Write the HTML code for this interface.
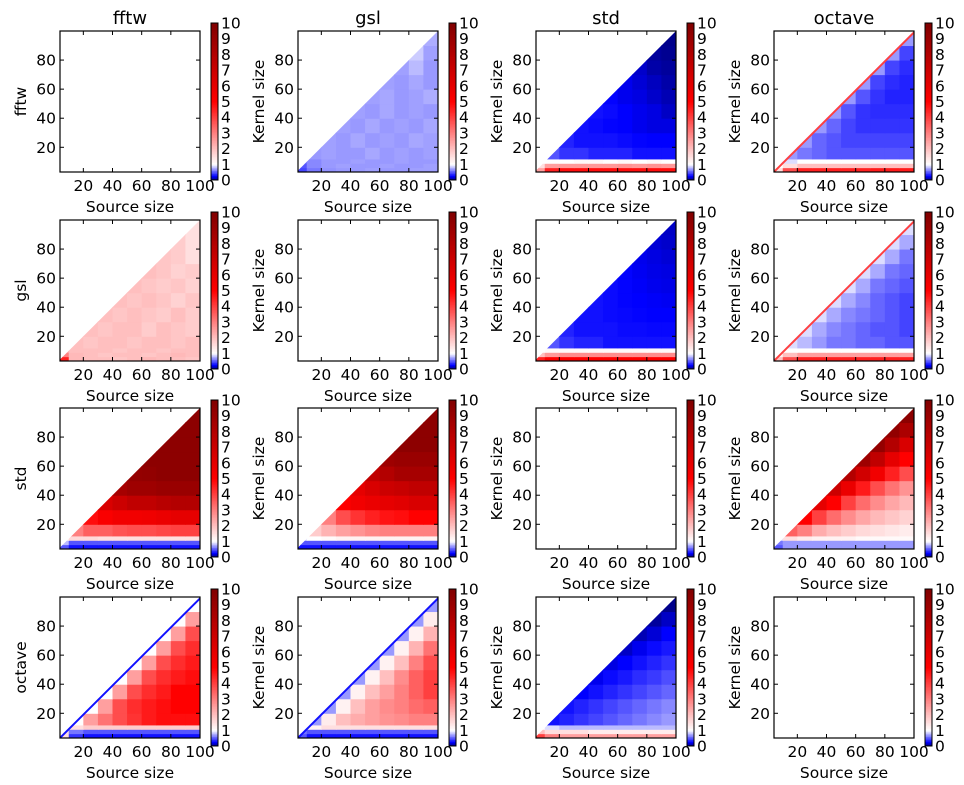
<!DOCTYPE html>
<html><head><meta charset="utf-8">
<style>
html,body{margin:0;padding:0;background:#fff;}
svg{display:block;}
text{font-family:"DejaVu Sans","Liberation Sans",sans-serif;fill:#000;}
</style></head>
<body>
<svg id="fig" width="964" height="785" viewBox="0 0 964 785" xmlns="http://www.w3.org/2000/svg"></svg>
<script>
const libs = ['fftw','gsl','std','octave'];
const sourceEdges = [3,10,20,30,40,50,60,70,80,90,100];
const kernelEdges = [3,6,9,12,20,30,40,50,60,70,80,90,100];
const xTicks = [20,40,60,80,100];
const yTicks = [20,40,60,80];
const cbTicks = [0,1,2,3,4,5,6,7,8,9,10];

const ones = [1,1,1,1,1,1,1,1,1,1];
const data_fftw_fftw = [ones,ones,ones,ones,ones,ones,ones,ones,ones,ones,ones,ones];
const data_gsl_gsl = [ones,ones,ones,ones,ones,ones,ones,ones,ones,ones,ones,ones];
const data_std_std = [ones,ones,ones,ones,ones,ones,ones,ones,ones,ones,ones,ones];
const data_octave_octave = [ones,ones,ones,ones,ones,ones,ones,ones,ones,ones,ones,ones];

const data_fftw_gsl = [
[.45,.6,.68,.7,.7,.72,.7,.7,.72,.72],
[.5,.65,.7,.72,.7,.7,.72,.7,.7,.72],
[.55,.65,.7,.7,.72,.7,.7,.72,.7,.7],
[.7,.7,.72,.7,.7,.74,.7,.72,.7,.72],
[.7,.7,.72,.7,.74,.7,.72,.7,.74,.72],
[.7,.7,.7,.72,.7,.74,.7,.72,.7,.74],
[.7,.7,.7,.7,.72,.7,.74,.7,.72,.7],
[.7,.7,.7,.7,.7,.72,.74,.7,.72,.76],
[.7,.7,.7,.7,.7,.7,.72,.7,.74,.7],
[.7,.7,.7,.7,.7,.7,.7,.72,.8,.7],
[.7,.7,.7,.7,.7,.7,.7,.7,.85,.72],
[.7,.7,.7,.7,.7,.7,.7,.7,.7,.76]];
const data_gsl_fftw = [
[4.5,2.1,2,2,1.9,2,2.1,2,2,1.9],
[3,2.1,2,1.9,2,2,1.9,2,2.1,2],
[2.4,2,2,2,1.9,2,2,1.9,2,2],
[2.2,2,1.9,2,2,1.9,2,2,1.9,2],
[2.1,2,2,1.9,2,2,1.8,2,1.9,1.8],
[2,2,2,2,1.9,2,1.9,1.8,2,1.8],
[2,2,2,2,2,1.9,2,1.9,1.7,1.9],
[2,2,2,2,2,2,1.9,1.8,1.9,1.7],
[2,2,2,2,2,2,2,1.9,1.7,1.8],
[2,2,2,2,2,2,2,1.9,1.8,1.5],
[2,2,2,2,2,2,2,2,1.8,1.5],
[2,2,2,2,2,2,2,2,1.9,1.5]];
const data_fftw_std = [
[2.5,4.5,4.8,4.8,4.8,4.8,4.8,4.8,4.8,4.8],
[1.5,2.5,2.6,2.6,2.6,2.6,2.7,2.6,2.7,2.6],
[1,1,1,1.1,1.1,1,1.1,1,1.1,1],
[.6,.5,.4,.4,.35,.35,.35,.3,.3,.3],
[.5,.4,.35,.3,.3,.3,.28,.26,.25,.25],
[.4,.4,.35,.3,.28,.26,.25,.22,.2,.2],
[.4,.4,.35,.3,.3,.28,.25,.22,.2,.15],
[.4,.4,.35,.3,.3,.26,.22,.2,.16,.12],
[.4,.4,.35,.3,.3,.26,.22,.18,.14,.1],
[.4,.4,.35,.3,.3,.26,.2,.16,.1,.08],
[.4,.4,.35,.3,.3,.26,.2,.12,.08,.06],
[.4,.4,.35,.3,.3,.26,.2,.1,.06,.05]];
const data_fftw_octave = [
[1.5,3.8,4.5,4.5,4.5,4.5,4.5,4.6,4.6,4.6],
[1,1.5,2,2,2,2,2,2,2,2],
[.7,.9,1,1,1,1,1,1,1,1],
[.6,.7,.6,.55,.5,.5,.5,.5,.5,.5],
[.6,.6,.7,.55,.5,.45,.45,.45,.45,.45],
[.6,.6,.7,.7,.55,.45,.4,.4,.4,.4],
[.6,.6,.7,.7,.7,.5,.4,.38,.38,.38],
[.6,.6,.7,.7,.7,.7,.5,.4,.35,.35],
[.6,.6,.7,.7,.7,.7,.7,.45,.38,.35],
[.6,.6,.7,.7,.7,.7,.7,.7,.45,.38],
[.6,.6,.7,.7,.7,.7,.7,.7,.7,.45],
[.6,.6,.7,.7,.7,.7,.7,.7,.7,.7]];
const data_gsl_std = [
[4.5,5,5,5,5,5,5,5,5,5],
[2,2.6,2.8,2.8,2.8,2.8,2.8,2.8,2.8,2.8],
[1,1.1,1.1,1.1,1.1,1.1,1.1,1.1,1.1,1.1],
[.6,.5,.4,.35,.35,.3,.3,.3,.3,.3],
[.5,.4,.35,.3,.3,.3,.28,.28,.27,.27],
[.5,.4,.35,.3,.3,.28,.27,.26,.25,.25],
[.5,.4,.35,.3,.3,.28,.26,.25,.24,.23],
[.5,.4,.35,.3,.3,.28,.26,.24,.22,.21],
[.5,.4,.35,.3,.3,.28,.26,.23,.21,.2],
[.5,.4,.35,.3,.3,.28,.26,.22,.2,.18],
[.5,.4,.35,.3,.3,.28,.26,.22,.18,.16],
[.5,.4,.35,.3,.3,.28,.26,.22,.18,.15]];
const data_gsl_octave = [
[2,3.8,4.5,4.5,4.5,4.5,4.5,4.5,4.5,4.5],
[1.2,2,2.5,2.5,2.5,2.5,2.5,2.5,2.5,2.5],
[.9,1,1,1,1,1,1,1,1,1],
[.9,.9,.8,.7,.6,.6,.55,.55,.5,.5],
[.9,.9,.9,.75,.65,.6,.55,.5,.5,.45],
[.9,.9,.9,.9,.75,.65,.6,.55,.5,.45],
[.9,.9,.9,.9,.9,.75,.65,.55,.5,.45],
[.9,.9,.9,.9,.9,.9,.75,.6,.55,.5],
[.9,.9,.9,.9,.9,.9,.9,.75,.6,.55],
[.9,.9,.9,.9,.9,.9,.9,.9,.75,.6],
[.9,.9,.9,.9,.9,.9,.9,.9,.9,.75],
[.9,.9,.9,.9,.9,.9,.9,.9,.9,.9]];
const data_std_fftw = [
[.5,.3,.3,.3,.3,.3,.3,.3,.3,.3],
[.8,.5,.5,.5,.5,.5,.5,.5,.5,.5],
[1.2,1.6,1.6,1.5,1.5,1.5,1.5,1.5,1.5,1.5],
[1,3,3.5,3.5,3.7,3.8,3.8,3.9,4,4],
[1,3.5,4.8,5.2,5.5,5.5,5.6,5.8,6,6],
[1,3.5,5.5,6.5,7,7.5,7.5,7.8,8,8],
[1,3.5,5.5,7.5,8.5,8.8,8.8,9,9,9],
[1,3,5,7,9,9.2,9.3,9.5,9.5,9.5],
[1,3,5,7,9,9.5,9.5,9.5,9.5,9.5],
[1,3,5,7,9,9.5,9.5,9.5,9.5,9.5],
[1,3,5,7,9,9.5,9.5,9.5,9.5,9.5],
[1,3,5,7,9,9.5,9.5,9.5,9.5,9.5]];
const data_std_gsl = [
[.3,.3,.3,.3,.3,.3,.3,.3,.3,.3],
[.5,.5,.5,.5,.5,.5,.5,.5,.5,.5],
[.9,1,1.1,1.2,1.2,1.2,1.2,1.2,1.2,1.2],
[1,1.8,2.2,2.5,2.7,2.9,3,3,3,3],
[1,2,3,3.8,4.2,4.5,4.7,4.8,5,5],
[1,2,3,5,5.5,5.8,6,6.2,6.5,6.5],
[1,2,3,5,6,6.5,7,7.2,7.5,7.5],
[1,2,3,5,6,7.5,8,8.5,8.5,8.5],
[1,2,3,5,6,8,8.8,9,9,9],
[1,2,3,5,6,8,9,9.5,9.5,9.5],
[1,2,3,5,6,8,9,9.5,9.5,9.5],
[1,2,3,5,6,8,9,9.5,9.5,9.5]];
const data_std_octave = [
[.5,.7,.7,.7,.7,.7,.7,.7,.7,.7],
[.6,.7,.7,.7,.7,.7,.7,.7,.7,.7],
[.9,1.5,1.3,1.2,1.2,1.2,1.1,1.1,1.1,1.1],
[1,3.5,3,2.3,2,1.8,1.6,1.5,1.4,1.3],
[1,3,5,4,3.3,2.8,2.4,2.1,1.9,1.7],
[1,3,4.5,6,5,4,3.3,2.8,2.4,2.1],
[1,3,4.5,5.5,7,5.8,4.6,3.8,3.2,2.7],
[1,3,4.5,5.5,6.5,8,6.8,5.5,4.5,3.8],
[1,3,4.5,5.5,6.5,7.5,8.8,7.5,6,5],
[1,3,4.5,5.5,6.5,7.5,8.5,9.2,8,6.5],
[1,3,4.5,5.5,6.5,7.5,8.5,9,9.3,8.3],
[1,3,4.5,5.5,6.5,7.5,8.5,9,9,9.5]];
const data_octave_fftw = [
[1.5,.4,.3,.3,.3,.3,.3,.3,.3,.3],
[1.5,.6,.5,.5,.5,.5,.5,.5,.5,.5],
[1.2,1.5,1.8,1.8,1.8,1.8,1.8,1.8,1.8,1.8],
[1,1,2.5,3.2,3.8,4.2,4.6,4.8,4.8,4.8],
[.9,.9,1,2.5,3.8,4.3,4.6,4.8,5,5],
[.9,.9,.9,1,2.5,3.8,4.3,4.6,5,5],
[.9,.9,.9,.9,1,2.5,3.8,4.3,4.6,4.8],
[.9,.9,.9,.9,.9,1,2.5,3.8,4.3,4.6],
[.9,.9,.9,.9,.9,.9,1,2.5,3.8,4.3],
[.9,.9,.9,.9,.9,.9,.9,1,2.5,3.8],
[.9,.9,.9,.9,.9,.9,.9,.9,1,2.5],
[.9,.9,.9,.9,.9,.9,.9,.9,.9,1]];
const data_octave_gsl = [
[.5,.3,.3,.3,.3,.3,.3,.3,.3,.3],
[.6,.5,.5,.5,.5,.5,.5,.5,.5,.5],
[.8,1.2,1.5,1.5,1.5,1.5,1.5,1.5,1.5,1.5],
[.7,.7,1.3,2,2.3,2.5,2.7,2.8,3,3],
[.6,.6,.7,1.2,2,2.5,2.8,3,3.3,3.5],
[.6,.6,.6,.7,1.2,2,2.5,3,3.5,4],
[.6,.6,.6,.6,.7,1.2,2,2.8,3.5,4],
[.6,.6,.6,.6,.6,.7,1.2,2,3,3.8],
[.6,.6,.6,.6,.6,.6,.7,1.2,2.2,3.2],
[.6,.6,.6,.6,.6,.6,.6,.7,1.2,2.2],
[.6,.6,.6,.6,.6,.6,.6,.6,.7,1.3],
[.6,.6,.6,.6,.6,.6,.6,.6,.6,.7]];
const data_octave_std = [
[4,3,2.5,2.5,2.5,2.5,2.5,2.5,2.5,2.5],
[2,1.5,1.5,1.5,1.3,1.3,1.3,1.3,1.3,1.3],
[1,.9,.8,.8,.8,.8,.8,.8,.8,.8],
[.3,.3,.35,.4,.45,.5,.55,.6,.65,.7],
[.3,.3,.3,.35,.4,.45,.5,.55,.6,.65],
[.3,.3,.3,.25,.3,.35,.4,.45,.5,.55],
[.3,.3,.3,.25,.22,.28,.32,.38,.42,.48],
[.3,.3,.3,.25,.22,.2,.25,.3,.35,.4],
[.3,.3,.3,.25,.22,.2,.15,.22,.28,.32],
[.3,.3,.3,.25,.22,.2,.15,.12,.18,.25],
[.3,.3,.3,.25,.22,.2,.15,.12,.08,.15],
[.3,.3,.3,.25,.22,.2,.15,.12,.08,.05]];

// diagonal edge value per panel (null = no distinct edge)
const diagRow0 = [null,null,null,4];
const diagRow1 = [null,null,null,4];
const diagRow2 = [null,null,null,null];
const diagRow3 = [.3,.3,null,null];
const diagValues = [diagRow0,diagRow1,diagRow2,diagRow3];

const panelData = [
[data_fftw_fftw,data_fftw_gsl,data_fftw_std,data_fftw_octave],
[data_gsl_fftw,data_gsl_gsl,data_gsl_std,data_gsl_octave],
[data_std_fftw,data_std_gsl,data_std_std,data_std_octave],
[data_octave_fftw,data_octave_gsl,data_octave_std,data_octave_octave]];

const NS = 'http://www.w3.org/2000/svg';
const svg = document.getElementById('fig');
const colX = [60,298,536,774];
const rowY = [31,220,408,597];
const W = 140, H = 141;
const xDom = [4,100], yDom = [3,100];

function mk(tag, attrs, parent){
  const e = document.createElementNS(NS, tag);
  for (const k in attrs) e.setAttribute(k, attrs[k]);
  (parent||svg).appendChild(e);
  return e;
}
function lerp(a,b,t){return a+(b-a)*t;}
function cmap(v){
  const stops=[[0,[0,0,110]],[0.25,[0,0,255]],[1,[255,255,255]],[5,[255,0,0]],[10,[128,0,0]]];
  v=Math.max(0,Math.min(10,v));
  for(let i=0;i<stops.length-1;i++){
    const [a,ca]=stops[i],[b,cb]=stops[i+1];
    if(v<=b){const t=(v-a)/(b-a);
      return 'rgb('+Math.round(lerp(ca[0],cb[0],t))+','+Math.round(lerp(ca[1],cb[1],t))+','+Math.round(lerp(ca[2],cb[2],t))+')';}
  }
  return 'rgb(128,0,0)';
}

for(let r=0;r<4;r++){
  for(let c=0;c<4;c++){
    const ax=colX[c], ay=rowY[r];
    const sx = v => ax + (v-xDom[0])/(xDom[1]-xDom[0])*W;
    const sy = v => ay + H - (v-yDom[0])/(yDom[1]-yDom[0])*H;
    const g = mk('g',{});
    
    
    const cid='clip'+r+'_'+c;
    const cp = mk('clipPath',{id:cid},g);
    mk('polygon',{points:[[sx(4),sy(3)],[sx(4),sy(4)],[sx(100),sy(100)],[sx(100),sy(3)]].map(p=>p.join(',')).join(' ')},cp);
    const cells = mk('g',{'clip-path':'url(#'+cid+')'},g);
    
    
    const d = panelData[r][c];
    for(let ki=0;ki<kernelEdges.length-1;ki++){
      for(let si=0;si<sourceEdges.length-1;si++){
        const x0=sx(sourceEdges[si]), x1=sx(sourceEdges[si+1]);
        const y0=sy(kernelEdges[ki+1]), y1=sy(kernelEdges[ki]);
        const rc = mk('rect',{x:x0,y:y0,width:x1-x0+0.5,height:y1-y0+0.5,fill:cmap(d[ki][si])},cells);
        
        
      }
    }
    const dv = diagValues[r][c];
    if(dv!==null){
      const dl = mk('line',{x1:sx(3),y1:sy(3)+1.2,x2:sx(100),y2:sy(100)+1.2,stroke:cmap(dv),'stroke-width':2.2},cells);
      
      
    }
    const fr = mk('rect',{x:ax,y:ay,width:W,height:H,fill:'none',stroke:'#000','stroke-width':1.2},g);
    
    
    for(const t of xTicks){
      const x=sx(t);
      mk('line',{x1:x,y1:ay+H,x2:x,y2:ay+H-4,stroke:'#000'},g);
      mk('line',{x1:x,y1:ay,x2:x,y2:ay+4,stroke:'#000'},g);
      const tx=mk('text',{x:x,y:ay+H+19,'font-size':15.5,'text-anchor':'middle'},g);
      tx.textContent=t;
      
      
    }
    for(const t of yTicks){
      const y=sy(t);
      mk('line',{x1:ax,y1:y,x2:ax+4,y2:y,stroke:'#000'},g);
      mk('line',{x1:ax+W,y1:y,x2:ax+W-4,y2:y,stroke:'#000'},g);
      const ty=mk('text',{x:ax-4,y:y+5.5,'font-size':15.5,'text-anchor':'end'},g);
      ty.textContent=t;
      
      
    }
    const xl=mk('text',{x:ax+W/2,y:ay+H+40,'font-size':15.5,'text-anchor':'middle'},g);
    xl.textContent='Source size';
    
    
    const ylTxt = c===0 ? libs[r] : 'Kernel size';
    const yx = ax-34, yy = ay+H/2;
    const yl=mk('text',{x:yx,y:yy,'font-size':15.5,'text-anchor':'middle',transform:'rotate(-90 '+yx+' '+yy+')'},g);
    yl.textContent=ylTxt;
    
    
    if(r===0){
      const tt=mk('text',{x:ax+W/2,y:24,'font-size':18,'text-anchor':'middle'},g);
      tt.textContent=libs[c];
      
      
    }
    const cbx=ax+W+11, cby=ay-8, cbw=7, cbh=157;
    const cb = mk('g',{},g);
    
    
    const N=100;
    for(let i=0;i<N;i++){
      const v0=i/N*10;
      const y=cby+cbh-(i+1)/N*cbh;
      mk('rect',{x:cbx,y:y,width:cbw,height:cbh/N+0.4,fill:cmap(v0+0.05)},cb);
    }
    mk('rect',{x:cbx,y:cby,width:cbw,height:cbh,fill:'none',stroke:'#000','stroke-width':1},cb);
    for(const t of cbTicks){
      const y=cby+cbh-t/10*cbh;
      const lt=mk('text',{x:cbx+cbw+3,y:y+5.5,'font-size':15.5},cb);
      lt.textContent=t;
      
      
    }
  }
}
</script>
</body></html>
